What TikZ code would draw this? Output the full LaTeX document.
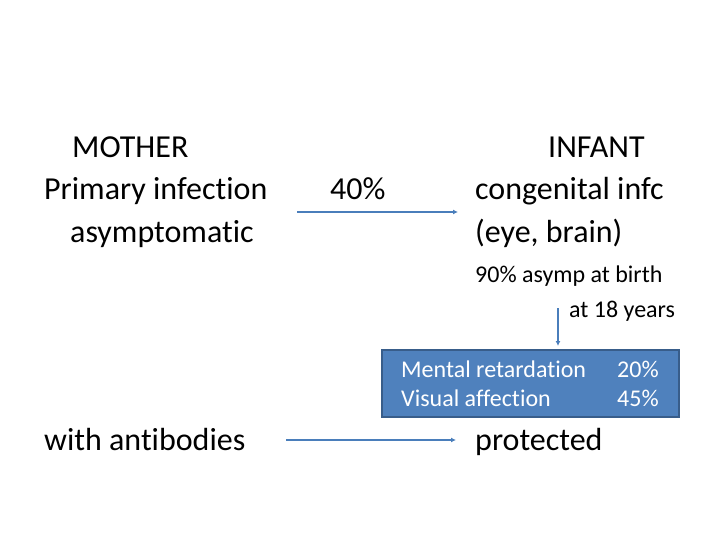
\documentclass[tikz,border=0pt]{standalone}
\usepackage{fontspec}
\setmainfont{Carlito}[Ligatures=NoCommon]
\usetikzlibrary{arrows.meta}
\definecolor{arrowblue}{HTML}{4A7EBB}
\definecolor{boxfill}{HTML}{4F81BD}
\definecolor{boxline}{HTML}{385D8A}
\begin{document}
\begin{tikzpicture}[x=1pt,y=-1pt,
  big/.style={inner sep=0pt,anchor=base west,font=\fontsize{32}{38}\selectfont},
  small/.style={inner sep=0pt,anchor=base west,font=\fontsize{24}{29}\selectfont},
  boxtxt/.style={inner sep=0pt,anchor=base west,font=\fontsize{24}{29}\selectfont,text=white},
  conn/.style={draw=arrowblue,line width=1.5pt,-{Latex[length=5pt,width=5pt]}}]
\useasboundingbox (0,0) rectangle (720,540);
% box
\node[draw=boxline,line width=2pt,fill=boxfill,minimum width=297pt,minimum height=67pt,anchor=north west,inner sep=0pt] (box) at (381,349) {};
\node[boxtxt] (mr) at (401,377) {Mental retardation};
\node[boxtxt] (va) at (401,406) {Visual affection};
\node[boxtxt] (p1) at (617,377) {20\%};
\node[boxtxt] (p2) at (617,406) {45\%};
% mother
\node[big] (m1) at (72,158) {MOTHER};
\node[big] (m2) at (44,200) {Primary infection};
\node[big] (m3) at (70,242) {asymptomatic};
\node[big] (pc) at (330,200) {40\%};
\node[big] (i1) at (548,158) {INFANT};
\node[big] (i2) at (475,200) {congenital infc};
\node[big] (i3) at (475,242) {(eye, brain)};
\node[small] (s1) at (475,282) {90\% asymp at birth};
\node[small] (s2) at (569,317) {at 18 years};
\node[big] (wa) at (44,450) {with antibodies};
\node[big] (pr) at (475,450) {protected};
% connectors
\coordinate (a1s) at (297,212);
\coordinate (a1e) at (458,212);
\coordinate (a2s) at (286,440);
\coordinate (a2e) at (456,440);
\coordinate (a3s) at (558,308);
\coordinate (a3e) at (558,346);
\draw[conn] (a1s) -- (a1e);
\draw[conn] (a2s) -- (a2e);
\draw[conn] (a3s) -- (a3e);
\end{tikzpicture}
\end{document}
